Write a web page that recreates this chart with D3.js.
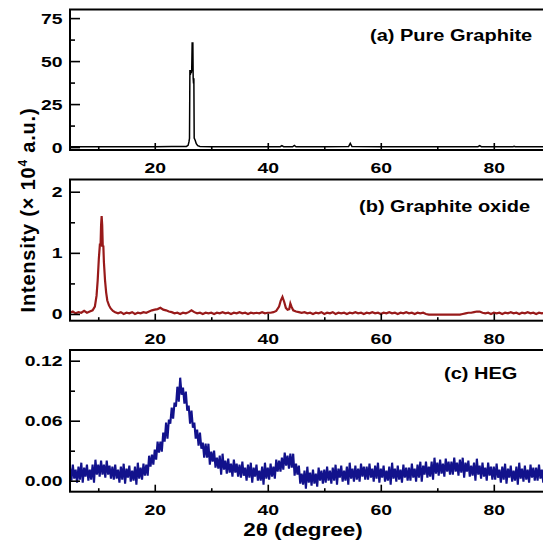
<!DOCTYPE html>
<html>
<head>
<meta charset="utf-8">
<script src="https://cdn.jsdelivr.net/npm/d3@7"></script>
<style>
  html, body { margin: 0; padding: 0; background: #fff; }
  svg { display: block; font-family: "Liberation Sans", Arial, Helvetica, sans-serif; font-weight: bold; }
</style>
</head>
<body>
<svg id="chart" width="543" height="545"></svg>
<script>
// ---- data: 2θ (degree) vs intensity (× 10⁴ a.u.) ----
const xTicks = [20, 40, 60, 80];
const xMinorTicks = [10, 30, 50, 70, 90];

const panelTitles = ["(a) Pure Graphite", "(b) Graphite oxide", "(c) HEG"];

const yTicksGraphite = [0, 25, 50, 75];
const yMinorGraphite = [12.5, 37.5, 62.5];
const yTicksOxide = [0, 1, 2];
const yMinorOxide = [0.5, 1.5];
const yTicksHEG = [0, 0.06, 0.12];
const yMinorHEG = [0.03, 0.09];

// (a) pure graphite: flat baseline, sharp (002) reflection, a few weak lines
const graphite = [
  [5, 0.2], [8, 0.2], [12, 0.2], [16, 0.2], [20, 0.2], [23, 0.3], [25, 0.3],
  [25.6, 0.4], [25.9, 1.0], [26.05, 3.0], [26.15, 5.0],
  [26.22, 44.8], [26.30, 42], [26.38, 44.8], [26.46, 43], [26.54, 44.8],
  [26.62, 61], [26.68, 57], [26.74, 61], [26.80, 40], [26.86, 37], [26.92, 40],
  [26.98, 5.2], [27.15, 4.0], [27.35, 2.0], [27.6, 0.8], [28.0, 0.4],
  [30, 0.2], [35, 0.2], [40, 0.2], [42.2, 0.2], [42.5, 0.8], [42.8, 0.2],
  [44.4, 0.2], [44.7, 1.0], [45.0, 0.2], [50, 0.2], [54.3, 0.3], [54.6, 2.2],
  [54.9, 0.3], [60, 0.2], [70, 0.2], [77.2, 0.2], [77.5, 0.8], [77.8, 0.2],
  [83.4, 0.2], [83.6, 0.5], [83.8, 0.2], [90, 0.2]
];

// (b) graphite oxide
const graphiteOxide = [
  [5, 0.02], [5.5, 0.04], [6, 0.01], [6.5, 0.03], [7, 0.02], [7.5, 0.05], [8, 0.02],
  [8.5, 0.04], [9, 0.06], [9.4, 0.12], [9.7, 0.3], [9.9, 0.55], [10.1, 0.9],
  [10.3, 1.15], [10.4, 1.1], [10.5, 1.45], [10.6, 1.6], [10.7, 1.45], [10.8, 1.1],
  [10.9, 1.12], [11.0, 0.85], [11.2, 0.55], [11.4, 0.35], [11.6, 0.22], [11.9, 0.14],
  [12.2, 0.09], [12.6, 0.05], [13, 0.03], [13.5, 0.01], [14, 0.03], [14.5, 0.0],
  [15, 0.02], [15.5, 0.01], [16, 0.03], [16.5, 0.0], [17, 0.02], [17.5, 0.01],
  [18, 0.03], [18.5, 0.02], [19, 0.04], [19.5, 0.06], [20, 0.07], [20.5, 0.08],
  [21, 0.1], [21.5, 0.07], [22, 0.06], [22.5, 0.04], [23, 0.03], [23.5, 0.01],
  [24, 0.02], [24.5, 0.0], [25, 0.02], [25.5, 0.01], [26, 0.03], [26.5, 0.06],
  [27, 0.03], [27.5, 0.01], [28, 0.02], [28.5, 0.0], [29, 0.02], [29.5, 0.01],
  [30, 0.02], [30.5, 0.0], [31, 0.02], [31.5, 0.01], [32, 0.03], [32.5, 0.01],
  [33, 0.02], [33.5, 0.0], [34, 0.02], [34.5, 0.01], [35, 0.03], [35.5, 0.01],
  [36, 0.02], [36.5, 0.0], [37, 0.02], [37.5, 0.01], [38, 0.02], [38.5, 0.01],
  [39, 0.03], [39.5, 0.01], [40, 0.02], [40.5, 0.02], [41, 0.03], [41.5, 0.05],
  [42, 0.12], [42.3, 0.22], [42.6, 0.28], [42.9, 0.2], [43.2, 0.1], [43.5, 0.07],
  [43.8, 0.08], [44.0, 0.17], [44.2, 0.12], [44.5, 0.06], [45, 0.04], [45.5, 0.03],
  [46, 0.02], [46.5, 0.03], [47, 0.01], [47.5, 0.02], [48, 0.0], [48.5, 0.02],
  [49, 0.01], [49.5, 0.03], [50, 0.0], [50.5, 0.02], [51, 0.01], [51.5, 0.03],
  [52, 0.0], [52.5, 0.02], [53, 0.01], [53.5, 0.02], [54, 0.0], [54.5, 0.02],
  [55, 0.01], [55.5, 0.03], [56, 0.01], [56.5, 0.02], [57, 0.0], [57.5, 0.02],
  [58, 0.01], [58.5, 0.03], [59, 0.01], [59.5, 0.02], [60, 0.0], [60.5, 0.02],
  [61, 0.01], [61.5, 0.03], [62, 0.01], [62.5, 0.02], [63, 0.0], [63.5, 0.02],
  [64, 0.01], [64.5, 0.03], [65, 0.01], [65.5, 0.02], [66, 0.0], [66.5, 0.02],
  [67, 0.01], [67.5, 0.02], [68, 0.0], [68.5, -0.01], [69, -0.01], [70, -0.01],
  [71, -0.01], [72, -0.01], [73, -0.01], [74, -0.01], [74.5, 0.0], [75, 0.01],
  [75.5, 0.02], [76, 0.02], [76.5, 0.03], [77, 0.04], [77.5, 0.04], [78, 0.02],
  [78.5, 0.01], [79, 0.02], [79.5, 0.0], [80, 0.02], [80.5, 0.01], [81, 0.02],
  [81.5, 0.0], [82, 0.02], [82.5, 0.01], [83, 0.03], [83.5, 0.01], [84, 0.02],
  [84.5, 0.0], [85, 0.02], [85.5, 0.01], [86, 0.03], [86.5, 0.01], [87, 0.02],
  [87.5, 0.0], [88, 0.02], [88.5, 0.01], [89, 0.02], [89.5, 0.0], [90, 0.02]
];

// (c) HEG: broad, noisy (002) hump, 0.25° steps
const heg = [
  [5, .013], [5.25, .000], [5.5, .016], [5.75, .002], [6, .011], [6.25, -.002], [6.5, .014], [6.75, .001],
  [7, .018], [7.25, -.002], [7.5, .013], [7.75, .004], [8, .016], [8.25, .000], [8.5, .011], [8.75, .001],
  [9, .016], [9.25, -.002], [9.5, .021], [9.75, .006], [10, .016], [10.25, .004], [10.5, .020], [10.75, .006],
  [11, .016], [11.25, .003], [11.5, .020], [11.75, .006], [12, .015], [12.25, .002], [12.5, .014], [12.75, .001],
  [13, .016], [13.25, .002], [13.5, .011], [13.75, -.002], [14, .014], [14.25, .001], [14.5, .017], [14.75, -.003],
  [15, .012], [15.25, .003], [15.5, .015], [15.75, -.001], [16, .010], [16.25, .000], [16.5, .014], [16.75, -.004],
  [17, .018], [17.25, .002], [17.5, .013], [17.75, .001], [18, .017], [18.25, .005], [18.5, .016], [18.75, .005],
  [19, .025], [19.25, .014], [19.5, .026], [19.75, .016], [20, .031], [20.25, .021], [20.5, .039], [20.75, .028],
  [21, .039], [21.25, .029], [21.5, .048], [21.75, .039], [22, .058], [22.25, .042], [22.5, .061], [22.75, .057],
  [23, .073], [23.25, .062], [23.5, .078], [23.75, .074], [24, .094], [24.25, .079], [24.5, .103], [24.75, .086],
  [25, .093], [25.25, .077], [25.5, .089], [25.75, .070], [26, .075], [26.25, .057], [26.5, .070], [26.75, .053],
  [27, .058], [27.25, .042], [27.5, .051], [27.75, .035], [28, .048], [28.25, .032], [28.5, .038], [28.75, .023],
  [29, .037], [29.25, .023], [29.5, .037], [29.75, .016], [30, .029], [30.25, .019], [30.5, .030], [30.75, .013],
  [31, .023], [31.25, .012], [31.5, .025], [31.75, .006], [32, .027], [32.25, .011], [32.5, .020], [32.75, .007],
  [33, .022], [33.25, .008], [33.5, .017], [33.75, .004], [34, .021], [34.25, .008], [34.5, .017], [34.75, .004],
  [35, .016], [35.25, .003], [35.5, .019], [35.75, .005], [36, .013], [36.25, .000], [36.5, .016], [36.75, .003],
  [37, .018], [37.25, -.002], [37.5, .013], [37.75, .004], [38, .016], [38.25, .000], [38.5, .010], [38.75, .000],
  [39, .014], [39.25, -.004], [39.5, .018], [39.75, .002], [40, .013], [40.25, .001], [40.5, .017], [40.75, .004],
  [41, .014], [41.25, .002], [41.5, .021], [41.75, .009], [42, .020], [42.25, .009], [42.5, .023], [42.75, .011],
  [43, .028], [43.25, .015], [43.5, .025], [43.75, .012], [44, .027], [44.25, .013], [44.5, .027], [44.75, .005],
  [45, .017], [45.25, .006], [45.5, .015], [45.75, -.003], [46, .007], [46.25, -.004], [46.5, .010], [46.75, -.008],
  [47, .014], [47.25, -.002], [47.5, .008], [47.75, -.005], [48, .011], [48.25, -.003], [48.5, .007], [48.75, -.006],
  [49, .013], [49.25, .000], [49.5, .010], [49.75, -.003], [50, .011], [50.25, -.002], [50.5, .014], [50.75, .000],
  [51, .010], [51.25, -.003], [51.5, .013], [51.75, .000], [52, .016], [52.25, -.004], [52.5, .012], [52.75, .003],
  [53, .015], [53.25, -.001], [53.5, .010], [53.75, .000], [54, .014], [54.25, -.004], [54.5, .018], [54.75, .002],
  [55, .012], [55.25, -.001], [55.5, .015], [55.75, .001], [56, .012], [56.25, -.001], [56.5, .017], [56.75, .004],
  [57, .014], [57.25, .001], [57.5, .014], [57.75, .001], [58, .017], [58.25, .003], [58.5, .012], [58.75, -.001],
  [59, .015], [59.25, .002], [59.5, .018], [59.75, -.002], [60, .012], [60.25, .003], [60.5, .015], [60.75, -.001],
  [61, .010], [61.25, .000], [61.5, .014], [61.75, -.004], [62, .018], [62.25, .002], [62.5, .012], [62.75, -.001],
  [63, .015], [63.25, .001], [63.5, .011], [63.75, -.002], [64, .016], [64.25, .003], [64.5, .013], [64.75, .000],
  [65, .013], [65.25, .000], [65.5, .017], [65.75, .003], [66, .012], [66.25, -.001], [66.5, .016], [66.75, .003],
  [67, .019], [67.25, -.001], [67.5, .015], [67.75, .006], [68, .019], [68.25, .003], [68.5, .014], [68.75, .004],
  [69, .019], [69.25, .001], [69.5, .023], [69.75, .007], [70, .018], [70.25, .005], [70.5, .021], [70.75, .007],
  [71, .017], [71.25, .004], [71.5, .022], [71.75, .009], [72, .019], [72.25, .006], [72.5, .019], [72.75, .006],
  [73, .023], [73.25, .009], [73.5, .018], [73.75, .005], [74, .021], [74.25, .008], [74.5, .023], [74.75, .003],
  [75, .018], [75.25, .009], [75.5, .020], [75.75, .004], [76, .015], [76.25, .005], [76.5, .018], [76.75, .000],
  [77, .022], [77.25, .006], [77.5, .015], [77.75, .002], [78, .018], [78.25, .004], [78.5, .013], [78.75, .000],
  [79, .018], [79.25, .005], [79.5, .014], [79.75, .001], [80, .014], [80.25, .001], [80.5, .017], [80.75, .003],
  [81, .011], [81.25, -.002], [81.5, .014], [81.75, .001], [82, .017], [82.25, -.003], [82.5, .012], [82.75, .003],
  [83, .015], [83.25, -.001], [83.5, .010], [83.75, .000], [84, .014], [84.25, -.004], [84.5, .018], [84.75, .002],
  [85, .012], [85.25, -.001], [85.5, .015], [85.75, .001], [86, .011], [86.25, -.002], [86.5, .016], [86.75, .003],
  [87, .013], [87.25, .000], [87.5, .013], [87.75, .000], [88, .016], [88.25, .002], [88.5, .011], [88.75, -.002],
  [89, .014], [89.25, .001], [89.5, .017], [89.75, -.003], [90, .012]
];

// ---- layout ----
const svg = d3.select("#chart");
svg.append("rect").attr("width", 543).attr("height", 545).attr("fill", "#fff");

const x = d3.scaleLinear().domain([5, 90]).range([70, 550.3]);
const textStretch = 1.25;   // wide lettering used throughout the figure

const panels = [
  { id: "a", data: graphite, color: "#000000", width: 1.5, top: 9.5, bottom: 150,
    domain: [-1.7, 80], ticks: yTicksGraphite, minor: yMinorGraphite, fmt: d3.format("d"),
    title: panelTitles[0], tx: 370, ty: 41 },
  { id: "b", data: graphiteOxide, color: "#981a1a", width: 2.2, top: 179.5, bottom: 320.7,
    domain: [-0.11, 2.2], ticks: yTicksOxide, minor: yMinorOxide, fmt: d3.format("d"),
    title: panelTitles[1], tx: 359, ty: 212 },
  { id: "c", data: heg, color: "#12128c", width: 2.1, top: 350, bottom: 491.7,
    domain: [-0.011, 0.1307], ticks: yTicksHEG, minor: yMinorHEG, fmt: d3.format(".2f"),
    title: panelTitles[2], tx: 444, ty: 379 }
];

panels.forEach(p => {
  const y = d3.scaleLinear().domain(p.domain).range([p.bottom, p.top]);
  const g = svg.append("g").attr("class", "panel-" + p.id);

  g.append("clipPath").attr("id", "clip-" + p.id)
    .append("rect").attr("x", x.range()[0]).attr("y", p.top)
    .attr("width", x.range()[1] - x.range()[0]).attr("height", p.bottom - p.top);

  // trace
  const line = d3.line().x(d => x(d[0])).y(d => y(d[1]));
  g.append("path").datum(p.data)
    .attr("clip-path", "url(#clip-" + p.id + ")")
    .attr("fill", "none").attr("stroke", p.color)
    .attr("stroke-width", p.width).attr("stroke-linejoin", "miter")
    .attr("d", line);

  // x axis (ticks point inward)
  const xa = g.append("g").attr("transform", `translate(0,${p.bottom})`)
    .call(d3.axisBottom(x).tickValues(xTicks).tickSizeInner(-7).tickSizeOuter(0)
      .tickPadding(12).tickFormat(d3.format("d")));
  const xm = g.append("g").attr("transform", `translate(0,${p.bottom})`)
    .call(d3.axisBottom(x).tickValues(xMinorTicks).tickSizeInner(-3.5).tickSizeOuter(0)
      .tickFormat(""));

  // y axis (ticks point inward)
  const ya = g.append("g").attr("transform", `translate(${x.range()[0]},0)`)
    .call(d3.axisLeft(y).tickValues(p.ticks).tickSizeInner(-10).tickSizeOuter(0)
      .tickPadding(6).tickFormat(p.fmt));
  const ym = g.append("g").attr("transform", `translate(${x.range()[0]},0)`)
    .call(d3.axisLeft(y).tickValues(p.minor).tickSizeInner(-5).tickSizeOuter(0)
      .tickFormat(""));

  [xa, xm, ya, ym].forEach(a => {
    a.select(".domain").remove();
    a.selectAll("line").attr("stroke", "#000").attr("stroke-width", 1.6);
    a.selectAll("text").attr("fill", "#000")
      .attr("transform", `scale(${textStretch},1)`)
      .style("font-size", "15.5px").style("font-weight", "bold")
      .style("font-family", "'Liberation Sans', Arial, sans-serif");
  });

  // frame
  g.append("rect")
    .attr("x", x.range()[0]).attr("y", p.top)
    .attr("width", x.range()[1] - x.range()[0]).attr("height", p.bottom - p.top)
    .attr("fill", "none").attr("stroke", "#000").attr("stroke-width", 2);

  // panel title
  g.append("text")
    .attr("transform", `translate(${p.tx},${p.ty}) scale(${textStretch},1)`)
    .style("font-size", "16px")
    .attr("fill", "#000").text(p.title);
});

// axis titles
svg.append("text")
  .attr("transform", `translate(303,536) scale(${textStretch},1)`)
  .attr("text-anchor", "middle")
  .style("font-size", "18px")
  .attr("fill", "#000").text("2θ (degree)");

const yTitle = svg.append("text")
  .attr("transform", "translate(35,210) rotate(-90)")
  .attr("text-anchor", "middle")
  .style("font-size", "20px").style("letter-spacing", "0.8px")
  .attr("fill", "#000");
yTitle.append("tspan").text("Intensity (× 10");
yTitle.append("tspan").attr("dy", -8).style("font-size", "12px").text("4");
yTitle.append("tspan").attr("dy", 8).text(" a.u.)");
</script>
</body>
</html>
